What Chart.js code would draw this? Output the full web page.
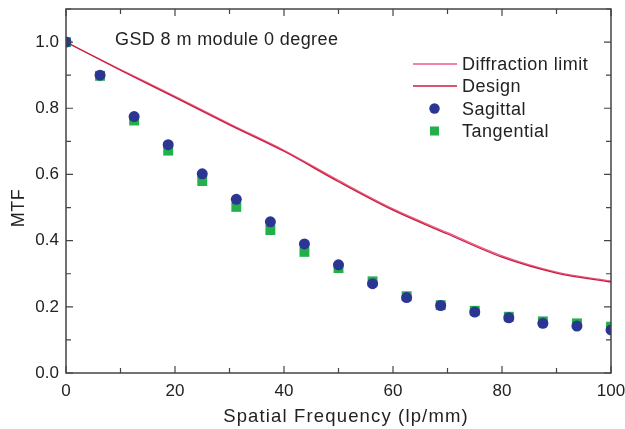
<!DOCTYPE html>
<html>
<head>
<meta charset="utf-8">
<script src="https://cdn.jsdelivr.net/npm/chart.js@4"></script>
<style>
  html, body { margin: 0; padding: 0; background: #fff; }
  #wrap { width: 625px; height: 429px; }
</style>
</head>
<body>
<div id="wrap"><canvas id="mtf"></canvas></div>
<script>
// measured MTF samples
const freq = [0, 6.25, 12.5, 18.75, 25, 31.25, 37.5, 43.75, 50, 56.25, 62.5, 68.75, 75, 81.25, 87.5, 93.75, 100];
const sagittal = [1.0, 0.90, 0.775, 0.690, 0.602, 0.525, 0.457, 0.390, 0.327, 0.270, 0.228, 0.204, 0.184, 0.167, 0.150, 0.142, 0.130];
const tangential = [1.0, 0.898, 0.763, 0.672, 0.580, 0.502, 0.432, 0.366, 0.317, 0.277, 0.232, 0.205, 0.188, 0.170, 0.156, 0.150, 0.140];

// theoretical curves
const curveFreq = [0, 10, 20, 30, 40, 50, 60, 70, 80, 90, 100];
const design = [1.0, 0.915, 0.833, 0.750, 0.670, 0.578, 0.492, 0.420, 0.350, 0.302, 0.275];
const diffraction = [1.0, 0.917, 0.836, 0.753, 0.673, 0.582, 0.496, 0.424, 0.354, 0.305, 0.278];

const xTicks = [0, 20, 40, 60, 80, 100];
const yTicks = [0, 0.2, 0.4, 0.6, 0.8, 1.0];

const toXY = (xs, ys) => xs.map((x, i) => ({ x: x, y: ys[i] }));

const textColor = "#222";
const fontFamily = "'Liberation Sans', Arial, Helvetica, sans-serif";

// frame, inward ticks, axis titles, legend and note
const decor = {
  id: "decor",
  afterDatasetsDraw(chart) {
    const ctx = chart.ctx;
    const a = chart.chartArea;
    const xs = chart.scales.x;
    const ys = chart.scales.y;
    ctx.save();
    ctx.strokeStyle = "#444";
    ctx.lineWidth = 1.5;
    ctx.strokeRect(a.left, a.top, a.right - a.left, a.bottom - a.top);

    ctx.lineWidth = 1.2;
    ctx.beginPath();
    for (let v = 0; v <= 100; v += 10) {
      const px = xs.getPixelForValue(v);
      const len = v % 20 === 0 ? 7 : 5;
      ctx.moveTo(px, a.bottom); ctx.lineTo(px, a.bottom - len);
      ctx.moveTo(px, a.top); ctx.lineTo(px, a.top + len);
    }
    for (let k = 0; k <= 11; k++) {
      const py = ys.getPixelForValue(k / 10);
      const len = k % 2 === 0 ? 7 : 5;
      ctx.moveTo(a.left, py); ctx.lineTo(a.left + len, py);
      ctx.moveTo(a.right, py); ctx.lineTo(a.right - len, py);
    }
    ctx.stroke();

    ctx.fillStyle = textColor;
    ctx.textBaseline = "alphabetic";

    // axis titles
    ctx.font = "18.5px " + fontFamily;
    ctx.letterSpacing = "1.15px";
    ctx.textAlign = "center";
    ctx.fillText("Spatial Frequency (lp/mm)", 346, 422);
    ctx.save();
    ctx.translate(24, (a.top + a.bottom) / 2 + 17);
    ctx.rotate(-Math.PI / 2);
    ctx.letterSpacing = "0.5px";
    ctx.font = "18px " + fontFamily;
    ctx.fillText("MTF", 0, 0);
    ctx.restore();

    // note
    ctx.textAlign = "left";
    ctx.font = "18px " + fontFamily;
    ctx.letterSpacing = "0.4px";
    ctx.fillText("GSD 8 m module 0 degree", 115, 45);

    // legend
    const rows = [64, 86, 108.5, 131];
    const order = [3, 2, 0, 1];
    ctx.letterSpacing = "0.5px";
    order.forEach((di, i) => {
      const ds = chart.data.datasets[di];
      const y = rows[i];
      if (ds.showLine) {
        ctx.strokeStyle = ds.borderColor;
        ctx.lineWidth = 1.3;
        ctx.beginPath();
        ctx.moveTo(413, y); ctx.lineTo(457, y);
        ctx.stroke();
      } else {
        ctx.fillStyle = ds.backgroundColor;
        if (ds.pointStyle === "rect") {
          ctx.fillRect(430, y - 4.5, 9, 9);
        } else {
          ctx.beginPath();
          ctx.arc(434.5, y, 5.2, 0, Math.PI * 2);
          ctx.fill();
        }
      }
      ctx.fillStyle = textColor;
      ctx.fillText(ds.label, 462, y + 6.3);
    });
    ctx.restore();
  }
};

new Chart(document.getElementById("mtf").getContext("2d"), {
  type: "scatter",
  data: {
    datasets: [
      {
        label: "Sagittal",
        data: toXY(freq, sagittal),
        pointStyle: "circle",
        pointRadius: 5.5,
        backgroundColor: "#2b3592",
        borderColor: "#2b3592",
        borderWidth: 0,
        showLine: false,
      },
      {
        label: "Tangential",
        data: toXY(freq, tangential),
        pointStyle: "rect",
        pointRadius: 7,
        backgroundColor: "#22b04b",
        borderColor: "#22b04b",
        borderWidth: 0,
        showLine: false,
      },
      {
        label: "Design",
        data: toXY(curveFreq, design),
        borderColor: "#c81e3c",
        borderWidth: 1.3,
        pointRadius: 0,
        showLine: true,
        cubicInterpolationMode: "monotone",
      },
      {
        label: "Diffraction limit",
        data: toXY(curveFreq, diffraction),
        borderColor: "#ec5a86",
        borderWidth: 1.3,
        pointRadius: 0,
        showLine: true,
        cubicInterpolationMode: "monotone",
      },
    ],
  },
  options: {
    responsive: true,
    maintainAspectRatio: false,
    animation: false,
    events: [],
    layout: { padding: { left: 0, right: 14, top: 9, bottom: 0 } },
    plugins: {
      legend: { display: false },
      tooltip: { enabled: false },
    },
    scales: {
      x: {
        type: "linear",
        min: 0,
        max: 100,
        afterBuildTicks: (s) => { s.ticks = xTicks.map((v) => ({ value: v })); },
        afterFit: (s) => { s.height = 56; s.paddingLeft = 0; s.paddingRight = 0; },
        grid: { display: false, drawTicks: false },
        border: { display: false },
        ticks: {
          padding: 8,
          color: textColor,
          font: { family: fontFamily, size: 17 },
          maxRotation: 0,
        },
      },
      y: {
        type: "linear",
        min: 0,
        max: 1.1,
        afterBuildTicks: (s) => { s.ticks = yTicks.map((v) => ({ value: v })); },
        afterFit: (s) => { s.width = 66; s.paddingTop = 0; s.paddingBottom = 0; },
        grid: { display: false, drawTicks: false },
        border: { display: false },
        ticks: {
          padding: 7,
          color: textColor,
          font: { family: fontFamily, size: 17 },
          callback: (v) => v.toFixed(1),
        },
      },
    },
  },
  plugins: [decor],
});
</script>
</body>
</html>
